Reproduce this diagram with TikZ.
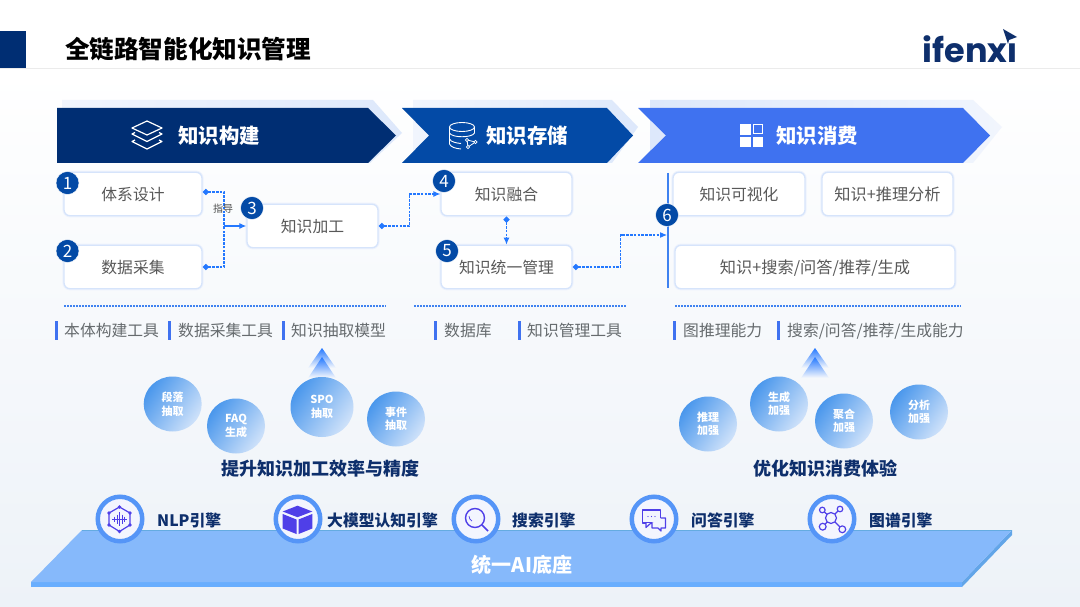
\documentclass[tikz,border=0pt]{standalone}
\usepackage{fontspec}
\setmainfont{Noto Sans CJK SC}
\newfontfamily\logofont{Poppins}
\usepackage{tikz}
\usetikzlibrary{arrows.meta, positioning, calc, shapes.geometric}
\definecolor{navy}{HTML}{002E73}
\definecolor{midblue}{HTML}{034AA6}
\definecolor{brightblue}{HTML}{3F72F0}
\definecolor{flowblue}{HTML}{2478FF}
\definecolor{barblue}{HTML}{3F82F0}
\definecolor{ghost}{HTML}{DDE8FB}
\definecolor{ghostfade}{HTML}{F1F5FD}
\definecolor{boxedge}{HTML}{D6E4FB}
\definecolor{boxglow}{HTML}{EEF3FD}
\definecolor{bodygrey}{HTML}{585858}
\definecolor{toolgrey}{HTML}{666B6E}
\definecolor{headnavy}{HTML}{0E2F6C}
\definecolor{ballA}{HTML}{4A97EC}
\definecolor{ballB}{HTML}{CFE2FA}
\definecolor{deckT}{HTML}{86B9FB}
\definecolor{deckF}{HTML}{69AEFE}
\definecolor{deckS}{HTML}{62A5E8}
\definecolor{ring}{HTML}{5595F7}
\definecolor{ringin}{HTML}{F3F5FE}
\definecolor{iconv}{HTML}{4F3FE8}
\definecolor{pagebot}{HTML}{EDF2F8}
\newcommand{\fsz}[2]{\fontsize{#1}{#2}\selectfont}

\begin{document}
\begin{tikzpicture}[x=1pt, y=-1pt,
    card/.style={draw=boxedge, line width=1.3pt, fill=white, rounded corners=6pt,
      preaction={draw=boxglow, line width=3.2pt},
      minimum height=43.5pt, inner sep=0pt, text=bodygrey, font=\fsz{15.8}{18},
      text height=14.5pt, text depth=1.5pt},
    badge/.style={circle, fill=midblue, draw=white, line width=0.4pt, minimum size=23pt,
      inner sep=0pt, text=white, font=\fsz{17}{17}},
    head/.style={text=white, font=\fsz{20.4}{22}\bfseries, inner sep=0pt},
    lnk/.style={dash pattern=on 2.6pt off 1.2pt, line width=1.05pt, flowblue},
    dia/.style={{Diamond[length=6.5pt,width=6.5pt]}-},
    link/.style={lnk, {Diamond[length=6.5pt,width=6.5pt]}-{Latex[length=7pt,width=6pt]}},
    dot/.style={barblue, line width=1.7pt, dash pattern=on 1.7pt off 1.3pt},
    tool/.style={text=toolgrey, font=\fsz{15.8}{18}, inner sep=0pt, anchor=west,
      text height=14.5pt, text depth=1.5pt},
    tick/.style={fill=brightblue, draw=none, minimum width=3.5pt, minimum height=19pt, inner sep=0pt},
    ball/.style={ellipse, inner sep=0pt, minimum width=58pt, minimum height=55pt, shading=axis,
      left color=ballA, right color=ballB, shading angle=55, text=white, align=center,
      font=\fsz{11}{13.5}\bfseries},
    gain/.style={text=headnavy, font=\fsz{18}{20}\bfseries, inner sep=0pt},
    hub/.style={circle, draw=ring, line width=4.5pt, fill=ringin, minimum size=44.5pt, inner sep=0pt},
    engine/.style={text=headnavy, font=\fsz{15.8}{18}\bfseries, inner sep=0pt, anchor=west},
    ic/.style={iconv, line width=1.2pt}]
  \useasboundingbox (0,0) rectangle (1080,607);
  % page
  \fill[white] (0,0) rectangle (1080,70);
  \shade[top color=white, bottom color=pagebot] (0,70) rectangle (1080,607);
  \fill[navy] (0,31) rectangle (26,68);
  \draw[black!8, line width=1pt] (0,69) -- (1080,69);
  \node[inner sep=0pt, anchor=west, font=\fsz{24.6}{26}\bfseries] (title) at (65,49) {全链路智能化知识管理};
  % logo
  \node[inner sep=0pt, anchor=west, text=headnavy, font=\logofont\fsz{33.5}{35}\bfseries] (logo) at (922.5,49) {ifenxi};
  \fill[white] (1005,30) rectangle (1017,42);
  \fill[headnavy] (1003,29) -- (1017,37) -- (1009,40) -- (1008,44) -- cycle;

  % chevrons, back then front
  \shade[left color=ghostfade, right color=ghost] (62,100) -- (373,100) -- (402,133) -- (370,163) -- (62,163) -- cycle;
  \shade[left color=ghostfade, right color=ghost] (413,100) -- (612,100) -- (638,127) -- (612,163) -- (413,163) -- cycle;
  \shade[left color=ghost, right color=ghostfade] (650,100) -- (973,100) -- (1002,127) -- (973,163) -- (650,163) -- cycle;
  \fill[navy] (57,108) -- (368,108) -- (396,135.5) -- (368,163) -- (57,163) -- cycle;
  \fill[midblue] (402,108) -- (607,108) -- (633,135.5) -- (607,163) -- (402,163) -- (429,135.5) -- cycle;
  \fill[brightblue] (638,108) -- (963,108) -- (990,135.5) -- (963,163) -- (638,163) -- (666,135.5) -- cycle;
  \node[head, anchor=west] (hbuild) at (178,135.5) {知识构建};
  \node[head, anchor=west] (hstore) at (486,135.5) {知识存储};
  \node[head, anchor=west] (huse) at (776,135.5) {知识消费};
  % layers icon
  \draw[white, line width=1.2pt, line join=round] (147,121) -- (162,128) -- (147,135) -- (132,128) -- cycle;
  \foreach \d in {0,7.5}
    \draw[white, line width=1.2pt, line join=round] (135,{132.5+\d}) -- (132,{134+\d}) -- (147,{141.5+\d}) -- (162,{134+\d}) -- (159,{132.5+\d});
  % database icon
  \draw[white, line width=0.9pt] (462,127) ellipse [x radius=12.5, y radius=4.5];
  \draw[white, line width=0.9pt] (449.5,127) -- (449.5,144) .. controls (451,147.5) and (456,148.5) .. (461,149);
  \draw[white, line width=0.9pt] (449.5,133) .. controls (452,138) and (472,138) .. (474.5,133) -- (474.5,127);
  \draw[white, line width=0.9pt] (449.5,139) .. controls (451,142) and (456,143) .. (461,143.5);
  \draw[white, line width=0.8pt] (467,140) -- (475.5,142) -- (468,147) -- cycle;
  \foreach \p in {(467,140),(475.5,142),(468,147)}
    \filldraw[draw=white, fill=midblue, line width=0.8pt] \p circle (1.6);
  % grid icon
  \fill[white] (740,124) rectangle (751,135);
  \draw[white, line width=1.2pt] (753.6,124.6) rectangle (762.4,133.4);
  \fill[white] (740,137) rectangle (751,147);
  \fill[white] (752.5,137) rectangle (763,147);

  % cards
  \node[card, minimum width=138pt] (design) at (133,194) {体系设计};
  \node[card, minimum width=138pt] (collect) at (133,267) {数据采集};
  \node[card, minimum width=131pt] (proc) at (312.5,226) {知识加工};
  \node[card, minimum width=131pt] (fuse) at (506.5,194) {知识融合};
  \node[card, minimum width=131pt] (mgmt) at (506.5,267) {知识统一管理};
  \node[card, minimum width=132pt] (vis) at (739,194) {知识可视化};
  \node[card, minimum width=131pt, font=\fsz{16.2}{18}] (infer) at (887.5,194) {知识+推理分析};
  \node[card, minimum width=280pt, font=\fsz{16.2}{18}] (search) at (815,267) {知识+搜索/问答/推荐/生成};

  % links
  \coordinate (meet) at (224,226);
  \coordinate (bartop) at (668,173);
  \coordinate (barbot) at (668,288);
  \coordinate (barin) at (667,235);
  \draw[barblue, line width=1.6pt] (bartop) -- (barbot);
  \draw[lnk, dia] ([yshift=2pt]design.east) -| (meet);
  \draw[lnk, dia] (collect.east) -| (meet);
  \draw[flowblue, line width=1.2pt, -{Latex[length=7pt,width=6pt]}] (meet) -- (proc.west);
  \node[inner sep=0pt, text=black!70, font=\fsz{10}{11}] (guide) at (223,209) {指导};
  \draw[link] (proc.east) -- ++(31,0) |- (fuse.west);
  \draw[link] (fuse.south) -- (mgmt.north);
  \draw[link] (mgmt.east) -- ++(48,0) |- (barin);

  % badges
  \foreach \n/\x/\y/\t in {b1/67.5/183/1,b2/67.5/251/2,b3/252/208/3,b4/444/181/4,b5/447/251/5,b6/667/215/6}
    \node[badge] (\n) at (\x,\y) {\t};

  % dotted rules
  \coordinate (ruleAa) at (64,306);
  \coordinate (ruleAb) at (386,306);
  \coordinate (ruleBa) at (414,306);
  \coordinate (ruleBb) at (626,306);
  \coordinate (ruleCa) at (675,306);
  \coordinate (ruleCb) at (961,306);
  \foreach \a/\b in {ruleAa/ruleAb,ruleBa/ruleBb,ruleCa/ruleCb} \draw[dot] (\a) -- (\b);

  % tools
  \foreach \n/\x in {tA/56.5,tB/169.5,tC/283.5,tD/435.5,tE/519.5,tF/674.5,tG/778.5}
    \node[tick] (\n) at (\x,330) {};
  \node[tool] (ltA) at (64,330) {本体构建工具};
  \node[tool] (ltB) at (178,330) {数据采集工具};
  \node[tool] (ltC) at (291,330) {知识抽取模型};
  \node[tool] (ltD) at (444,330) {数据库};
  \node[tool] (ltE) at (527,330) {知识管理工具};
  \node[tool] (ltF) at (683,330) {图推理能力};
  \node[tool] (ltG) at (787,330) {搜索/问答/推荐/生成能力};

  % up arrows
  \foreach \x in {322,815} {
    \shade[top color=flowblue, bottom color=pagebot!40] (\x,348) -- ({\x+14},368) -- ({\x-14},368) -- cycle;
    \shade[top color=flowblue, bottom color=pagebot!40] (\x,357) -- ({\x+14},378) -- ({\x-14},378) -- cycle;
  }

  % balls
  \node[ball] (para) at (172.7,404) {段落\\抽取};
  \node[ball] (faq) at (236,426) {FAQ\\生成};
  \node[ball, minimum width=63pt, minimum height=60pt] (spo) at (322,407) {SPO\\抽取};
  \node[ball] (event) at (396,419) {事件\\抽取};
  \node[ball] (reason) at (708,424) {推理\\加强};
  \node[ball] (gen) at (779,404) {生成\\加强};
  \node[ball] (agg) at (844,421) {聚合\\加强};
  \node[ball] (ana) at (919,412) {分析\\加强};
  \node[gain] (gainA) at (320.5,469) {提升知识加工效率与精度};
  \node[gain] (gainB) at (825,469) {优化知识消费体验};

  % deck
  \fill[deckF] (31,582) -- (962,582) -- (962,587) -- (31,587) -- cycle;
  \fill[deckS] (1012,530) -- (1012,535) -- (962,587) -- (962,582) -- cycle;
  \fill[deckT] (82,530) -- (1012,530) -- (962,582) -- (31,582) -- cycle;
  \draw[cyan!30!deckT, line width=0.8pt] (82,530) -- (1012,530);
  \node[inner sep=0pt, text=white, font=\fsz{20}{22}\bfseries] (deck) at (522,565) {统一AI底座};

  % engines
  \foreach \n/\x in {nlp/120,cube/298,find/476,chat/654,graph/832}
    \node[hub] (\n) at (\x,519) {};
  \node[engine] (enlp) at (157,520) {NLP引擎};
  \node[engine] (ecube) at (327,520) {大模型认知引擎};
  \node[engine] (efind) at (512,520) {搜索引擎};
  \node[engine] (echat) at (691,520) {问答引擎};
  \node[engine] (egraph) at (869,520) {图谱引擎};
  % nlp icon
  \draw[ic] (119.5,507) -- (130,513) -- (130,525) -- (119.5,531.5) -- (109,525) -- (109,513) -- cycle;
  \foreach \p in {(119.5,507),(130,513),(130,525),(119.5,531.5),(109,525),(109,513)}
    \fill[iconv] \p circle (1.8);
  \draw[ic, line width=0.9pt] (112,519) -- (127,519);
  \foreach \d/\h in {-5/2.5,-2.5/4.5,0/7,2.5/4.5,5/2.5}
    \draw[ic, line width=0.9pt] ({119.5+\d},{519-\h}) -- ({119.5+\d},{519+\h});
  % cube icon
  \fill[iconv] (297.5,505.7) -- (312.3,511.5) -- (297.5,517.2) -- (282.7,511.5) -- cycle;
  \fill[iconv] (282.7,514) -- (296.5,519.5) -- (296.5,534) -- (282.7,528.5) -- cycle;
  \fill[iconv] (312.3,514) -- (298.5,519.5) -- (298.5,534) -- (312.3,528.5) -- cycle;
  % search icon
  \draw[ic, line width=1.4pt] (475,518) circle (9.5);
  \draw[ic, line width=1.6pt] (482,525) -- (488,531);
  \draw[ic, line width=0.7pt] (469,516) arc[start angle=180, end angle=120, radius=6];
  % chat icon
  \draw[ic, line join=round] (642.5,510) rectangle (660.5,523);
  \draw[ic, fill=ringin, line join=round] (646,523) -- (646,527.5) -- (651,523);
  \draw[ic, fill=ringin, line join=round] (652,523) -- (652,528) -- (658,528) -- (661,531) -- (661,528) -- (665.5,528) -- (665.5,518) -- (660.5,518);
  \foreach \x in {648,651.5,655} \fill[iconv] (\x,516.5) circle (0.7);
  % graph icon
  \foreach \a/\b in {822.3/510,840/509,822.7/526.7,842.3/529.3}
    \draw[ic] (831,518) -- (\a,\b);
  \filldraw[ic, fill=ringin] (831,518) circle (5.5);
  \filldraw[ic, fill=ringin] (822.3,510) circle (2.8);
  \filldraw[ic, fill=ringin] (840,509) circle (2.8);
  \filldraw[ic, fill=ringin] (822.7,526.7) circle (3.4);
  \filldraw[ic, fill=ringin] (842.3,529.3) circle (3.4);
\end{tikzpicture}
\end{document}
